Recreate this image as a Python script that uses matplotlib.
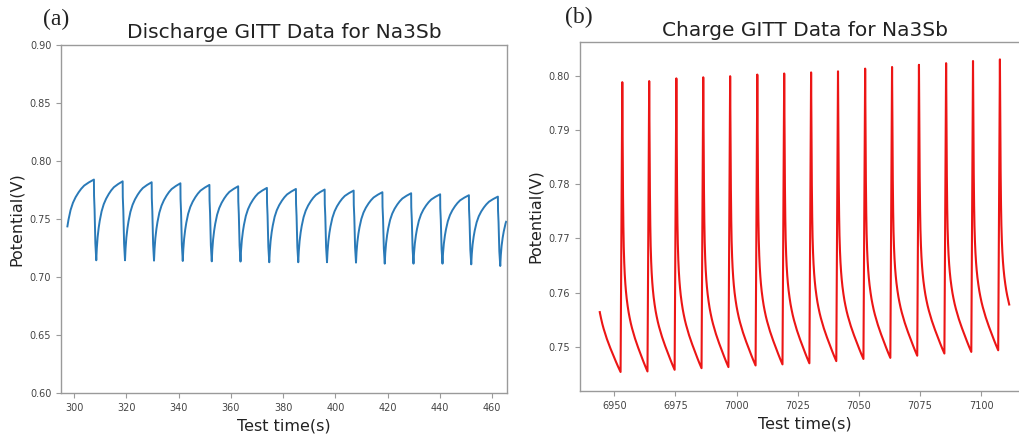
import numpy as np
import matplotlib
matplotlib.use("Agg")
import matplotlib.pyplot as plt

# ---------------- Discharge GITT (panel a) ----------------
# time of each relaxation maximum (start of the discharge pulse), s
dis_peak_t = [307.6, 318.6, 329.7, 340.7, 351.8, 362.8, 373.8, 384.9,
              395.9, 407.0, 418.0, 429.0, 440.1, 451.1, 462.2]
# potential at the end of each relaxation, V
dis_peak_v = [0.7840, 0.7825, 0.7817, 0.7808, 0.7794, 0.7782, 0.7768, 0.7759,
              0.7754, 0.7745, 0.7731, 0.7722, 0.7713, 0.7705, 0.7693]
# potential at the end of each discharge pulse, V
dis_min_v = [0.7144, 0.7144, 0.7141, 0.7138, 0.7135, 0.7133, 0.7127, 0.7127,
             0.7127, 0.7124, 0.7115, 0.7115, 0.7115, 0.7109, 0.7095]
dis_pulse_s = 0.9
dis_lead_min_t, dis_lead_min_v = 296.4, 0.7148   # pulse ending before the record
dis_tail_peak_v = 0.7690                          # level the last relaxation heads to
dis_window = (297.45, 465.35)
# pulse and relaxation profiles (fraction of the step above the lower level)
dis_drop_dt = [0.0, 0.05, 0.25, 0.55, 0.9]
dis_drop_frac = [1.0, 0.80, 0.63, 0.21, 0.0]
dis_relax_dt = [0.0, 0.2, 0.5, 0.9, 1.3, 2.0, 2.8, 3.7, 4.7, 5.6, 6.6, 8.2, 9.9]
dis_relax_frac = [0.0, 0.15, 0.29, 0.41, 0.50, 0.62, 0.71, 0.78, 0.84, 0.885,
                  0.925, 0.965, 1.0]

# ---------------- Charge GITT (panel b) ----------------
# time at which each charge pulse starts, s
chg_jump_t = [6952.6, 6963.6, 6974.7, 6985.7, 6996.7, 7007.8, 7018.8, 7029.8,
              7040.8, 7051.9, 7062.9, 7073.9, 7085.0, 7096.0, 7107.0]
# potential just before each pulse, V
chg_min_v = [0.7454, 0.7455, 0.7458, 0.7461, 0.7463, 0.7466, 0.7468, 0.7470,
             0.7474, 0.7478, 0.7480, 0.7484, 0.7488, 0.7491, 0.7494]
# potential at the end of each pulse, V
chg_peak_v = [0.7988, 0.7990, 0.7995, 0.7997, 0.7999, 0.8002, 0.8004, 0.8006,
              0.8008, 0.8013, 0.8016, 0.8020, 0.8023, 0.8027, 0.8030]
chg_pulse_s = 0.7
chg_lead_peak_t, chg_lead_peak_v = 6941.3, 0.7988
chg_tail_min_v = 0.7495
chg_window = (6944.1, 7111.5)
chg_rise_dt = [0.0, 0.7]
chg_rise_frac = [0.0, 1.0]
chg_decay_dt = [0.0, 0.1, 0.2, 0.3, 0.45, 0.6, 0.8, 1.0, 1.25, 1.5, 1.8, 2.2,
                2.6, 3.0, 3.5, 4.0, 4.5, 5.2, 5.8, 6.5, 7.2, 7.9, 8.6, 9.4, 10.3]
chg_decay_frac = [1.0, 0.86, 0.72, 0.61, 0.50, 0.43, 0.375, 0.337, 0.303, 0.277,
                  0.252, 0.226, 0.204, 0.186, 0.166, 0.149, 0.134, 0.114, 0.099,
                  0.082, 0.066, 0.050, 0.035, 0.018, 0.0]


def segment(t0, t1, lo, hi, dt_shape, frac_shape):
    dt = np.asarray(dt_shape, float)
    t = t0 + dt * (t1 - t0) / dt[-1]
    v = lo + np.asarray(frac_shape, float) * (hi - lo)
    return t, v


def trim(t, v, window):
    a, b = window
    keep = (t > a) & (t < b)
    tt = np.concatenate([[a], t[keep], [b]])
    vv = np.concatenate([[np.interp(a, t, v)], v[keep], [np.interp(b, t, v)]])
    return tt, vv


def discharge_trace():
    ts, vs = [], []
    t, v = segment(dis_lead_min_t, dis_peak_t[0], dis_lead_min_v, dis_peak_v[0],
                   dis_relax_dt, dis_relax_frac)
    ts.append(t); vs.append(v)
    n = len(dis_peak_t)
    for k in range(n):
        t_min = dis_peak_t[k] + dis_pulse_s
        t, v = segment(dis_peak_t[k], t_min, dis_min_v[k], dis_peak_v[k],
                       dis_drop_dt, dis_drop_frac)
        ts.append(t[1:]); vs.append(v[1:])
        if k + 1 < n:
            t_next, v_next = dis_peak_t[k + 1], dis_peak_v[k + 1]
        else:
            t_next = dis_peak_t[k] + (dis_peak_t[k] - dis_peak_t[k - 1])
            v_next = dis_tail_peak_v
        t, v = segment(t_min, t_next, dis_min_v[k], v_next,
                       dis_relax_dt, dis_relax_frac)
        ts.append(t[1:]); vs.append(v[1:])
    return trim(np.concatenate(ts), np.concatenate(vs), dis_window)


def charge_trace():
    ts, vs = [], []
    t, v = segment(chg_lead_peak_t, chg_jump_t[0], chg_min_v[0], chg_lead_peak_v,
                   chg_decay_dt, chg_decay_frac)
    ts.append(t); vs.append(v)
    n = len(chg_jump_t)
    for k in range(n):
        t_top = chg_jump_t[k] + chg_pulse_s
        t, v = segment(chg_jump_t[k], t_top, chg_min_v[k], chg_peak_v[k],
                       chg_rise_dt, chg_rise_frac)
        ts.append(t[1:]); vs.append(v[1:])
        if k + 1 < n:
            t_next, v_next = chg_jump_t[k + 1], chg_min_v[k + 1]
        else:
            t_next = chg_jump_t[k] + (chg_jump_t[k] - chg_jump_t[k - 1])
            v_next = chg_tail_min_v
        t, v = segment(t_top, t_next, v_next, chg_peak_v[k],
                       chg_decay_dt, chg_decay_frac)
        ts.append(t[1:]); vs.append(v[1:])
    return trim(np.concatenate(ts), np.concatenate(vs), chg_window)


spine_c = "#9a9a9a"
tick_c = "#444444"

fig = plt.figure(figsize=(10.2, 4.34), dpi=100)
ax1 = fig.add_axes([0.0598, 0.0945, 0.4373, 0.8018])
ax2 = fig.add_axes([0.5686, 0.0991, 0.4412, 0.8041])

for ax in (ax1, ax2):
    for s in ax.spines.values():
        s.set_color(spine_c)
        s.set_linewidth(1.0)
    ax.tick_params(colors=spine_c, labelcolor=tick_c, labelsize=7, length=3.5, width=0.8)
ax2.spines["right"].set_visible(False)

t1, v1 = discharge_trace()
ax1.plot(t1, v1, color="#2a7ab8", lw=1.4)
ax1.set_xlim(295.0, 465.7)
ax1.set_ylim(0.60, 0.90)
ax1.set_xticks(np.arange(300, 461, 20))
ax1.set_yticks(np.arange(0.60, 0.901, 0.05))
ax1.yaxis.set_major_formatter(matplotlib.ticker.FormatStrFormatter("%.2f"))
ax1.set_title("Discharge GITT Data for Na3Sb", fontsize=14.5, color="#222222", pad=5)
ax1.set_xlabel("Test time(s)", fontsize=11.5, color="#222222", labelpad=4)
ax1.set_ylabel("Potential(V)", fontsize=11.5, color="#222222", labelpad=4)

t2, v2 = charge_trace()
ax2.plot(t2, v2, color="#ec1515", lw=1.5)
ax2.set_xlim(6936.0, 7120.0)
ax2.set_ylim(0.7419, 0.8062)
ax2.set_xticks(np.arange(6950, 7101, 25))
ax2.set_yticks(np.arange(0.75, 0.8001, 0.01))
ax2.yaxis.set_major_formatter(matplotlib.ticker.FormatStrFormatter("%.2f"))
ax2.set_title("Charge GITT Data for Na3Sb", fontsize=14.5, color="#222222", pad=4.3)
ax2.set_xlabel("Test time(s)", fontsize=11.5, color="#222222", labelpad=4)
ax2.set_ylabel("Potential(V)", fontsize=11.5, color="#222222", labelpad=4)

fig.text(0.042, 0.942, "(a)", family="Liberation Serif", fontsize=17, color="#222222")
fig.text(0.554, 0.947, "(b)", family="Liberation Serif", fontsize=17, color="#222222")

fig.savefig("out.png", dpi=100)
